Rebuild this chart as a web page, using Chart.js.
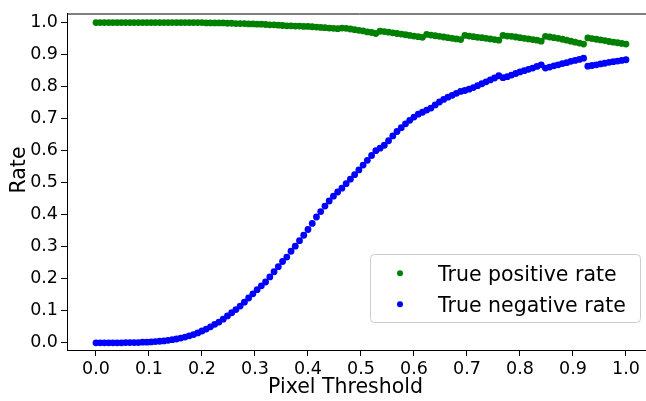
<!DOCTYPE html>
<html>
<head>
<meta charset="utf-8">
<script src="https://cdn.jsdelivr.net/npm/chart.js@4.4.1/dist/chart.umd.min.js"></script>
<style>
  html, body { margin: 0; padding: 0; background: #fff; overflow: hidden; }
  #wrap { width: 646px; height: 401px; overflow: hidden; }
</style>
</head>
<body>
<div id="wrap"><canvas id="chart" width="660" height="401"></canvas></div>
<script>
const thresholds = [
  0.000, 0.008, 0.016, 0.024, 0.032, 0.040, 0.048, 0.056, 0.064, 0.072,
  0.080, 0.088, 0.096, 0.104, 0.112, 0.120, 0.128, 0.136, 0.144, 0.152,
  0.160, 0.168, 0.176, 0.184, 0.192, 0.200, 0.208, 0.216, 0.224, 0.232,
  0.240, 0.248, 0.256, 0.264, 0.272, 0.280, 0.288, 0.296, 0.304, 0.312,
  0.320, 0.328, 0.336, 0.344, 0.352, 0.360, 0.368, 0.376, 0.384, 0.392,
  0.400, 0.408, 0.416, 0.424, 0.432, 0.440, 0.448, 0.456, 0.464, 0.472,
  0.480, 0.488, 0.496, 0.504, 0.512, 0.520, 0.528, 0.536, 0.544, 0.552,
  0.560, 0.568, 0.576, 0.584, 0.592, 0.600, 0.608, 0.616, 0.624, 0.632,
  0.640, 0.648, 0.656, 0.664, 0.672, 0.680, 0.688, 0.696, 0.704, 0.712,
  0.720, 0.728, 0.736, 0.744, 0.752, 0.760, 0.768, 0.776, 0.784, 0.792,
  0.800, 0.808, 0.816, 0.824, 0.832, 0.840, 0.848, 0.856, 0.864, 0.872,
  0.880, 0.888, 0.896, 0.904, 0.912, 0.920, 0.928, 0.936, 0.944, 0.952,
  0.960, 0.968, 0.976, 0.984, 0.992, 1.000
];

const truePositive = [
  1.000, 1.000, 1.000, 1.000, 1.000, 1.000, 1.000, 1.000, 1.000, 1.000,
  1.000, 1.000, 1.000, 1.000, 1.000, 1.000, 1.000, 1.000, 1.000, 1.000,
  1.000, 1.000, 1.000, 1.000, 1.000, 1.000, 0.999, 0.999, 0.999, 0.999,
  0.999, 0.998, 0.998, 0.997, 0.997, 0.997, 0.996, 0.996, 0.995, 0.995,
  0.994, 0.993, 0.993, 0.992, 0.991, 0.990, 0.990, 0.989, 0.989, 0.988,
  0.988, 0.987, 0.986, 0.985, 0.984, 0.983, 0.982, 0.981, 0.983, 0.982,
  0.980, 0.978, 0.976, 0.974, 0.971, 0.969, 0.966, 0.973, 0.972, 0.970,
  0.968, 0.966, 0.964, 0.962, 0.960, 0.958, 0.956, 0.954, 0.963, 0.961,
  0.959, 0.957, 0.955, 0.953, 0.951, 0.949, 0.947, 0.960, 0.958, 0.956,
  0.954, 0.953, 0.951, 0.949, 0.947, 0.945, 0.960, 0.958, 0.957, 0.955,
  0.953, 0.951, 0.949, 0.947, 0.945, 0.942, 0.957, 0.955, 0.953, 0.951,
  0.948, 0.945, 0.942, 0.939, 0.936, 0.933, 0.952, 0.950, 0.948, 0.946,
  0.944, 0.941, 0.939, 0.937, 0.935, 0.933
];

const trueNegative = [
  0.000, 0.000, 0.000, 0.000, 0.000, 0.000, 0.000, 0.001, 0.001, 0.001,
  0.001, 0.002, 0.002, 0.003, 0.004, 0.005, 0.006, 0.008, 0.010, 0.012,
  0.015, 0.018, 0.022, 0.026, 0.031, 0.037, 0.043, 0.050, 0.058, 0.065,
  0.074, 0.084, 0.094, 0.104, 0.115, 0.127, 0.140, 0.153, 0.166, 0.178,
  0.190, 0.206, 0.222, 0.238, 0.254, 0.268, 0.286, 0.302, 0.319, 0.336,
  0.354, 0.373, 0.393, 0.410, 0.427, 0.443, 0.458, 0.471, 0.483, 0.497,
  0.511, 0.525, 0.540, 0.555, 0.570, 0.585, 0.600, 0.608, 0.617, 0.631,
  0.646, 0.660, 0.672, 0.684, 0.695, 0.705, 0.714, 0.720, 0.727, 0.733,
  0.743, 0.752, 0.760, 0.767, 0.773, 0.779, 0.785, 0.788, 0.792, 0.797,
  0.803, 0.809, 0.815, 0.821, 0.827, 0.834, 0.828, 0.831, 0.836, 0.841,
  0.846, 0.850, 0.854, 0.858, 0.863, 0.868, 0.858, 0.861, 0.865, 0.868,
  0.872, 0.875, 0.879, 0.882, 0.885, 0.889, 0.864, 0.866, 0.868, 0.871,
  0.873, 0.876, 0.878, 0.880, 0.882, 0.884
];

const xTicks = [0, 0.1, 0.2, 0.3, 0.4, 0.5, 0.6, 0.7, 0.8, 0.9, 1.0];
const xTickLabels = ['0.0', '0.1', '0.2', '0.3', '0.4', '0.5', '0.6', '0.7', '0.8', '0.9', '1.0'];
const yTicks = [0, 0.1, 0.2, 0.3, 0.4, 0.5, 0.6, 0.7, 0.8, 0.9, 1.0];
const yTickLabels = ['0.0', '0.1', '0.2', '0.3', '0.4', '0.5', '0.6', '0.7', '0.8', '0.9', '1.0'];
const seriesNames = ['True positive rate', 'True negative rate'];
const seriesColors = ['#008000', '#0000ff'];

const FONT = '"DejaVu Sans", sans-serif';

function toPoints(ys) {
  return thresholds.map((x, i) => ({ x: x, y: ys[i] }));
}

// top spine, axis titles and the boxed legend inside the plot
const extras = {
  id: 'extras',
  afterDraw(chart) {
    const ctx = chart.ctx;
    const area = chart.chartArea;
    ctx.save();
    ctx.strokeStyle = '#000';
    ctx.lineWidth = 1;
    ctx.beginPath();
    ctx.moveTo(area.left, area.top + 0.5);
    ctx.lineTo(area.right, area.top + 0.5);
    ctx.stroke();

    ctx.fillStyle = '#000';
    ctx.font = '20.5px ' + FONT;
    ctx.textAlign = 'center';
    ctx.textBaseline = 'alphabetic';
    ctx.fillText('Pixel Threshold', 345.5, 393);
    ctx.save();
    ctx.translate(25, 170);
    ctx.rotate(-Math.PI / 2);
    ctx.fillText('Rate', 0, 0);
    ctx.restore();

    // legend
    const lx = 370.5, ly = 254.5, lw = 270, lh = 68, r = 4;
    ctx.beginPath();
    ctx.moveTo(lx + r, ly);
    ctx.lineTo(lx + lw - r, ly);
    ctx.arcTo(lx + lw, ly, lx + lw, ly + r, r);
    ctx.lineTo(lx + lw, ly + lh - r);
    ctx.arcTo(lx + lw, ly + lh, lx + lw - r, ly + lh, r);
    ctx.lineTo(lx + r, ly + lh);
    ctx.arcTo(lx, ly + lh, lx, ly + lh - r, r);
    ctx.lineTo(lx, ly + r);
    ctx.arcTo(lx, ly, lx + r, ly, r);
    ctx.closePath();
    ctx.fillStyle = 'rgba(255,255,255,0.8)';
    ctx.fill();
    ctx.strokeStyle = '#cccccc';
    ctx.stroke();

    ctx.textAlign = 'left';
    seriesNames.forEach((name, i) => {
      const cy = 273.3 + i * 31;
      ctx.fillStyle = seriesColors[i];
      ctx.beginPath();
      ctx.arc(400, cy, 3, 0, Math.PI * 2);
      ctx.fill();
      ctx.fillStyle = '#000';
      ctx.fillText(name, 438, cy + 7.5);
    });
    ctx.restore();
  }
};

const axisStyle = {
  grid: { display: true, drawOnChartArea: false, drawTicks: true, tickLength: 6, color: '#000', lineWidth: 1 },
  border: { display: true, color: '#000', width: 1 }
};

new Chart(document.getElementById('chart'), {
  type: 'scatter',
  data: {
    datasets: [
      {
        label: seriesNames[0],
        data: toPoints(truePositive),
        backgroundColor: seriesColors[0],
        borderColor: seriesColors[0],
        borderWidth: 0,
        pointRadius: 3.4,
        pointHoverRadius: 3.4
      },
      {
        label: seriesNames[1],
        data: toPoints(trueNegative),
        backgroundColor: seriesColors[1],
        borderColor: seriesColors[1],
        borderWidth: 0,
        pointRadius: 3.4,
        pointHoverRadius: 3.4
      }
    ]
  },
  options: {
    responsive: false,
    animation: false,
    events: [],
    layout: { padding: { top: 6, right: 8, left: 0, bottom: 0 } },
    plugins: {
      legend: { display: false },
      tooltip: { enabled: false }
    },
    scales: {
      x: {
        type: 'linear',
        min: -0.0547,
        max: 1.0491,
        ...axisStyle,
        afterBuildTicks: (scale) => { scale.ticks = xTicks.map(v => ({ value: v })); },
        afterFit: (scale) => { scale.height = 51; },
        ticks: {
          color: '#000',
          font: { family: FONT, size: 17.5 },
          padding: 3,
          maxRotation: 0,
          autoSkip: false,
          callback: (value, index) => xTickLabels[index]
        }
      },
      y: {
        type: 'linear',
        min: -0.0223,
        max: 1.0284,
        ...axisStyle,
        afterBuildTicks: (scale) => { scale.ticks = yTicks.map(v => ({ value: v })); },
        afterFit: (scale) => { scale.width = 67; },
        ticks: {
          color: '#000',
          font: { family: FONT, size: 17.5 },
          padding: 3,
          autoSkip: false,
          callback: (value, index) => yTickLabels[index]
        }
      }
    }
  },
  plugins: [extras]
});
</script>
</body>
</html>
